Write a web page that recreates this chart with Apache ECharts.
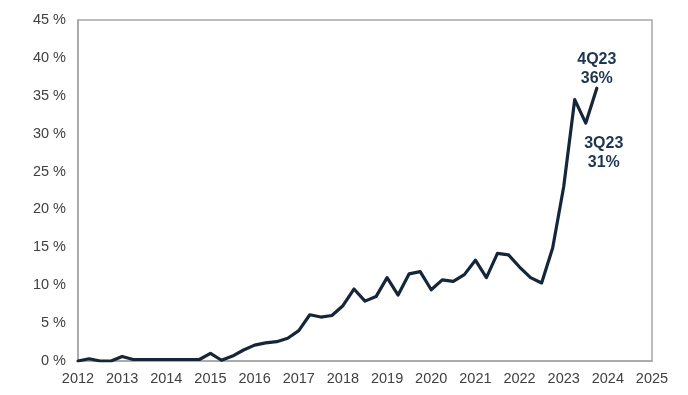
<!DOCTYPE html>
<html>
<head>
<meta charset="utf-8">
<style>html,body{margin:0;padding:0;background:#fff}#c{width:688px;height:395px}</style>
<script src="https://cdn.jsdelivr.net/npm/echarts@6/dist/echarts.min.js"></script>
</head>
<body>
<div id="c"></div>
<script>
// Quarterly values (%), 1Q12 .. 4Q23
const startYear = 2012;
const quarters = ['1Q12','2Q12','3Q12','4Q12','1Q13','2Q13','3Q13','4Q13','1Q14','2Q14','3Q14','4Q14',
  '1Q15','2Q15','3Q15','4Q15','1Q16','2Q16','3Q16','4Q16','1Q17','2Q17','3Q17','4Q17',
  '1Q18','2Q18','3Q18','4Q18','1Q19','2Q19','3Q19','4Q19','1Q20','2Q20','3Q20','4Q20',
  '1Q21','2Q21','3Q21','4Q21','1Q22','2Q22','3Q22','4Q22','1Q23','2Q23','3Q23','4Q23'];
const values = [0, 0.3, 0, 0, 0.6, 0.2, 0.2, 0.2, 0.2, 0.2, 0.2, 0.2,
  1.0, 0.1, 0.65, 1.45, 2.1, 2.4, 2.55, 3.0, 4.0, 6.1, 5.8, 6.0,
  7.3, 9.5, 7.9, 8.5, 11.0, 8.7, 11.5, 11.8, 9.4, 10.7, 10.5, 11.4,
  13.3, 11.0, 14.2, 14.0, 12.4, 11.0, 10.3, 14.9, 23.0, 34.5, 31.4, 36.0];
const yearTicks = [2012,2013,2014,2015,2016,2017,2018,2019,2020,2021,2022,2023,2024,2025];
const yTicks = [0,5,10,15,20,25,30,35,40,45];
const annotations = {'3Q23': '31%', '4Q23': '36%'};

const navy = '#152639';
const labelStyle = { color: '#1d3550', fontSize: 16, fontWeight: 'bold', lineHeight: 19,
  fontFamily: 'Liberation Sans, Arial, sans-serif', align: 'center' };
const data = quarters.map((q, i) => [startYear + i / 4, values[i]]);
const markData = quarters.map((q, i) => {
  if (!annotations[q]) return null;
  const lbl = Object.assign({ show: true, formatter: q + '\n' + annotations[q] }, labelStyle,
    q === '4Q23' ? { position: 'top', distance: 1, offset: [0, 2] } : { position: 'bottom', distance: 10, offset: [18, 0] });
  return { coord: [startYear + i / 4, values[i]], label: lbl };
}).filter(Boolean);

const chart = echarts.init(document.getElementById('c'));
chart.setOption({
  animation: false,
  grid: { left: 78, right: 36, top: 20, bottom: 34, show: true, borderColor: '#a6a6a6', borderWidth: 1.5, backgroundColor: 'transparent' },
  xAxis: {
    type: 'value', min: yearTicks[0], max: yearTicks[yearTicks.length - 1], interval: 1,
    axisLine: { show: true, lineStyle: { color: '#a6a6a6', width: 1.5 } },
    axisTick: { show: false }, splitLine: { show: false },
    axisLabel: { color: '#404040', fontSize: 14.5, fontFamily: 'Liberation Sans, Arial, sans-serif', margin: 10,
      formatter: v => yearTicks.includes(v) ? String(v) : '' }
  },
  yAxis: {
    type: 'value', min: yTicks[0], max: yTicks[yTicks.length - 1], interval: 5,
    axisLine: { show: true, lineStyle: { color: '#a6a6a6', width: 1.5 } },
    axisTick: { show: false }, splitLine: { show: false },
    axisLabel: { color: '#404040', fontSize: 14.5, fontFamily: 'Liberation Sans, Arial, sans-serif', margin: 12,
      formatter: '{value} %' }
  },
  series: [{
    type: 'line', data: data, showSymbol: false, symbol: 'none', smooth: false,
    lineStyle: { color: navy, width: 3.2, join: 'round', cap: 'round' },
    markPoint: {
      symbol: 'circle', symbolSize: 2, silent: true,
      itemStyle: { color: navy },
      data: markData
    }
  }]
});
</script>
</body>
</html>
